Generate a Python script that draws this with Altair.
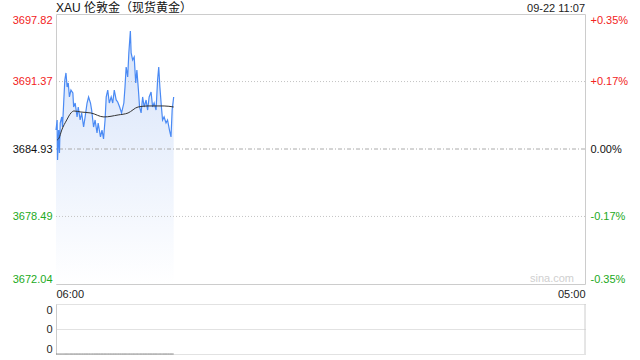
import altair as alt
import pandas as pd

title_text = "XAU 伦敦金（现货黄金）"
stamp_text = "09-22 11:07"
watermark = "sina.com"
session_minutes = 1380  # 06:00 -> 05:00 next day
base_price = 3684.93
y_ticks = [3672.04, 3678.49, 3684.93, 3691.37, 3697.82]
pct_labels = ["-0.35%", "-0.17%", "0.00%", "+0.17%", "+0.35%"]
x_tick_labels = ["06:00", "05:00"]

price_times = ["06:00","06:03","06:04","06:07","06:09","06:11","06:15","06:17","06:20","06:23",
               "06:26","06:29","06:32","06:35","06:39","06:44","06:46","06:50","06:55","06:58",
               "07:03","07:07","07:12","07:16","07:21","07:25","07:30","07:33","07:38","07:42",
               "07:47","07:50","07:56","08:00","08:04","08:08","08:11","08:15","08:19","08:24",
               "08:28","08:32","08:37","08:41","08:46","08:51","08:57","09:00","09:03","09:07",
               "09:10","09:14","09:16","09:20","09:24","09:28","09:31","09:35","09:38","09:42",
               "09:46","09:50","09:55","09:59","10:03","10:08","10:12","10:16","10:21","10:25",
               "10:28","10:31","10:35","10:38","10:42","10:47","10:51","10:56","11:00","11:03",
               "11:07"]
prices = [3686.74,3687.70,3683.88,3686.74,3684.55,3687.41,3687.99,3687.03,3689.32,3691.52,
          3692.19,3690.85,3691.23,3689.90,3690.56,3690.28,3688.94,3689.32,3687.99,3688.94,
          3687.70,3688.37,3687.03,3687.99,3689.32,3689.90,3689.32,3688.65,3687.03,3687.70,
          3686.46,3687.41,3686.08,3686.74,3685.89,3687.70,3689.90,3690.56,3689.32,3689.90,
          3689.32,3690.56,3689.61,3689.42,3688.94,3688.37,3689.32,3690.85,3692.76,3691.81,
          3694.10,3696.20,3694.10,3693.43,3693.71,3691.23,3692.47,3690.56,3688.94,3688.37,
          3689.90,3688.94,3689.61,3688.65,3689.90,3690.37,3688.94,3689.32,3688.65,3691.52,
          3692.76,3690.85,3688.94,3687.70,3687.99,3687.41,3687.70,3686.74,3686.08,3688.65,
          3689.90]

ma_times = ["06:03","06:08","06:15","06:28","06:39","06:47","07:05","07:31","08:05","08:42",
            "09:08","09:34","10:00","10:42","11:07"]
ma_values = [3685.79,3685.98,3686.74,3687.70,3688.37,3688.56,3688.46,3688.37,3687.99,3688.18,
             3688.37,3688.94,3689.04,3689.04,3688.94]

volumes = [0] * len(price_times)

RED = "#f22222"
GREEN = "#22aa22"
BLACK = "#111111"
FONT = "Liberation Sans, Arial, Noto Sans CJK SC"


def to_min(t):
    h, m = map(int, t.split(":"))
    return (h * 60 + m - 360) % 1440


price_df = pd.DataFrame({"m": [to_min(t) for t in price_times], "price": prices})
ma_df = pd.DataFrame({"m": [to_min(t) for t in ma_times], "price": ma_values})
vol_df = pd.DataFrame({"m": [to_min(t) for t in price_times], "vol": volumes})

xs = alt.Scale(domain=[0, session_minutes], nice=False, zero=False)
ys = alt.Scale(domain=[y_ticks[0], y_ticks[-1]], nice=False, zero=False)

color_expr = (f"datum.value > {base_price + 0.5} ? '{RED}' : "
              f"datum.value < {base_price - 0.5} ? '{GREEN}' : '{BLACK}'")

pct_expr = ""
for i in range(len(y_ticks) - 1):
    mid = (y_ticks[i] + y_ticks[i + 1]) / 2
    pct_expr += f"datum.value < {mid} ? '{pct_labels[i]}' : "
pct_expr += f"'{pct_labels[-1]}'"

x_expr = f"datum.value < {session_minutes / 2} ? '{x_tick_labels[0]}' : '{x_tick_labels[1]}'"

area = alt.Chart(price_df).mark_area(
    color=alt.Gradient(
        gradient="linear",
        stops=[alt.GradientStop(color="#d6e3fa", offset=0),
               alt.GradientStop(color="#ffffff", offset=1)],
        x1=1, x2=1, y1=0, y2=1,
    )
).encode(
    x=alt.X("m:Q", scale=xs, axis=alt.Axis(values=[0, session_minutes], labelExpr=x_expr,
                                           labelFlush=True, domain=False, ticks=False, grid=False,
                                           title=None, labelPadding=4, labelColor="#222222")),
    y=alt.Y("price:Q", scale=ys, axis=alt.Axis(values=y_ticks, format=".2f",
                                               labelColor=alt.ExprRef(expr=color_expr),
                                               labelFlush=True, domain=False, ticks=False,
                                               grid=False, title=None, labelPadding=4)),
    y2=alt.datum(y_ticks[0]),
)

grid_dotted = alt.Chart(pd.DataFrame({"price": [y_ticks[1], y_ticks[3]]})).mark_rule(
    color="#c4c4c4", strokeDash=[1, 2], strokeWidth=1
).encode(y=alt.Y("price:Q", scale=ys))

grid_base = alt.Chart(pd.DataFrame({"price": [base_price]})).mark_rule(
    color="#aaaaaa", strokeDash=[4, 2, 1, 2], strokeWidth=1
).encode(y=alt.Y("price:Q", scale=ys))

line = alt.Chart(price_df).mark_line(color="#4a8af4", strokeWidth=1.2).encode(
    x=alt.X("m:Q", scale=xs), y=alt.Y("price:Q", scale=ys)
)

ma = alt.Chart(ma_df).mark_line(color="#333333", strokeWidth=1, interpolate="monotone").encode(
    x=alt.X("m:Q", scale=xs), y=alt.Y("price:Q", scale=ys)
)

wm = alt.Chart(pd.DataFrame({"t": [watermark]})).mark_text(
    align="right", baseline="alphabetic", color="#cfcfcf", fontSize=11, font=FONT
).encode(x=alt.value(518), y=alt.value(268), text="t:N")

stamp = alt.Chart(pd.DataFrame({"t": [stamp_text]})).mark_text(
    align="right", baseline="alphabetic", color="#222222", fontSize=11, font=FONT
).encode(x=alt.value(529), y=alt.value(-2), text="t:N")

title_mark = alt.Chart(pd.DataFrame({"t": [title_text]})).mark_text(
    align="left", baseline="alphabetic", color="#111111", fontSize=12, font=FONT
).encode(x=alt.value(0), y=alt.value(-2), text="t:N")

main = alt.layer(area, grid_dotted, grid_base, line, ma, wm, stamp, title_mark)

right_axis = alt.Chart(pd.DataFrame({"price": y_ticks})).mark_rule(opacity=0).encode(
    y=alt.Y("price:Q", scale=ys, axis=alt.Axis(orient="right", values=y_ticks, labelExpr=pct_expr,
                                               labelColor=alt.ExprRef(expr=color_expr),
                                               labelFlush=True, domain=False, ticks=False,
                                               grid=False, title=None, labelPadding=5))
)

top = alt.layer(main, right_axis).resolve_scale(y="independent").properties(
    width=529, height=270,
    view=alt.ViewBackground(stroke="#cccccc"),
)

vol_line = alt.Chart(vol_df).mark_line(color="#888888", strokeWidth=1).encode(
    x=alt.X("m:Q", scale=xs, axis=None),
    y=alt.Y("vol:Q", scale=alt.Scale(domain=[0, 1], nice=False),
            axis=alt.Axis(values=[0, 0.5, 1], labelExpr="'0'", grid=True, gridDash=[1, 1],
                          gridColor="#c4c4c4", domain=True, domainColor="#cccccc", ticks=False,
                          labelFlush=True, labelPadding=4, title=None, labelColor="#222222")),
)

right_border = alt.Chart(pd.DataFrame({"m": [session_minutes]})).mark_rule(color="#cccccc").encode(
    x=alt.X("m:Q", scale=xs, axis=None)
)

bottom = alt.layer(vol_line, right_border).properties(width=529, height=50)

chart = alt.vconcat(top, bottom, spacing=20, bounds="flush").properties(
    padding={"left": 11, "top": 1, "right": 7, "bottom": 5},
).configure_view(stroke="transparent").configure_axis(
    labelFont=FONT, labelFontSize=11
).configure_text(font=FONT)

chart.save("out.html", embed_options={"renderer": "svg", "actions": False})
